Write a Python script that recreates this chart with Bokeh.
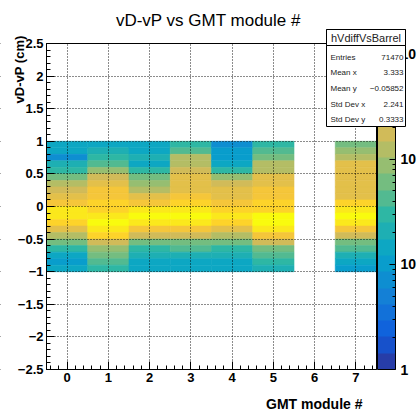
import numpy as np
from math import pi
from bokeh.plotting import figure
from bokeh.models import (ColumnDataSource, LogColorMapper, ColorBar, FixedTicker,
                          SingleIntervalTicker, Range1d, Label, BoxAnnotation)
from bokeh.embed import file_html
from bokeh.resources import INLINE

# ---------------- data ----------------
module_number = [0, 1, 2, 3, 4, 5, 6, 7]
y_bin_centers = [0.95, 0.85, 0.75, 0.65, 0.55, 0.45, 0.35, 0.25, 0.15, 0.05,
                 -0.05, -0.15, -0.25, -0.35, -0.45, -0.55, -0.65, -0.75, -0.85, -0.95]
x_bin_width = 1.0
y_bin_width = 0.1

counts_module0 = [13, 13, 7, 21, 30, 61, 124, 177, 253, 361, 737, 639, 447, 253, 124, 61, 30, 15, 10, 13]
counts_module1 = [17, 21, 30, 42, 87, 177, 291, 361, 361, 447, 516, 850, 1150, 850, 447, 177, 87, 53, 42, 34]
counts_module2 = [13, 17, 21, 15, 30, 53, 87, 143, 219, 361, 737, 1100, 850, 361, 177, 70, 30, 21, 13, 13]
counts_module3 = [30, 42, 107, 143, 177, 253, 291, 291, 361, 447, 850, 1180, 737, 416, 177, 70, 42, 21, 13, 13]
counts_module4 = [7, 10, 10, 17, 34, 87, 177, 253, 291, 361, 595, 850, 595, 291, 143, 70, 30, 21, 15, 15]
counts_module5 = [26, 42, 70, 107, 143, 253, 291, 336, 388, 447, 595, 1260, 1050, 737, 361, 177, 70, 42, 26, 21]
counts_module6 = [0] * 20
counts_module7 = [53, 87, 143, 219, 291, 291, 253, 219, 291, 447, 850, 1120, 850, 361, 177, 61, 42, 21, 15, 9]

all_counts = [counts_module0, counts_module1, counts_module2, counts_module3,
              counts_module4, counts_module5, counts_module6, counts_module7]

x_tick_values = [0, 1, 2, 3, 4, 5, 6, 7]
x_tick_labels = ["0", "1", "2", "3", "4", "5", "6", "7"]
y_tick_values = [-2.5, -2, -1.5, -1, -0.5, 0, 0.5, 1, 1.5, 2, 2.5]
y_tick_labels = ["\u22122.5", "\u22122", "\u22121.5", "\u22121", "\u22120.5", "0",
                 "0.5", "1", "1.5", "2", "2.5"]
z_tick_values = [1, 10, 100, 1000]
z_tick_labels = ["1", "10", "10", "10"]

stat_names = ["Entries", "Mean x", "Mean y", "Std Dev x", "Std Dev y"]
stat_values = ["71470", "3.333", "\u22120.05852", "2.241", "0.3333"]
hist_name = "hVdiffVsBarrel"
title_text = "vD-vP vs GMT module #"
x_title = "GMT module #"
y_title = "vD-vP (cm)"

# axis limits of the histogram frame
X_LO, X_HI = -0.5, 7.5
Y_LO, Y_HI = -2.5, 2.5

# ---------------- layout (canvas pixels) ----------------
W, H = 417, 411
FL, FR, FT, FB = 46, 376, 43, 369          # ROOT frame box inside the canvas
xs = (FR - FL) / (X_HI - X_LO)
ys = (FB - FT) / (Y_HI - Y_LO)
x_range = Range1d(X_LO - FL / xs, X_HI + (W - FR) / xs)
y_range = Range1d(Y_LO - (H - FB) / ys, Y_HI + FT / ys)

def sy(y_canvas):
    return H - y_canvas

# ---------------- build cells ----------------
left, right, bottom, top, z = [], [], [], [], []
for m, col in zip(module_number, all_counts):
    for yc, c in zip(y_bin_centers, col):
        if c > 0:
            left.append(m - x_bin_width / 2)
            right.append(m + x_bin_width / 2)
            bottom.append(yc - y_bin_width / 2)
            top.append(yc + y_bin_width / 2)
            z.append(c)
src = ColumnDataSource(dict(left=left, right=right, bottom=bottom, top=top, z=z))

# ROOT kBird palette, 20 contour levels
stops = [0.0, 0.125, 0.25, 0.375, 0.5, 0.625, 0.75, 0.875, 1.0]
R = [0.2082, 0.0592, 0.0780, 0.0232, 0.1802, 0.5301, 0.8186, 0.9956, 0.9764]
G = [0.1664, 0.3599, 0.5041, 0.6419, 0.7178, 0.7492, 0.7328, 0.7862, 0.9832]
B = [0.5293, 0.8684, 0.8385, 0.7914, 0.6425, 0.4662, 0.3499, 0.1968, 0.0539]
palette = []
for i in range(20):
    idx = min(int((i + 0.99) * 255 / 20), 254)
    t = idx / 254
    r, g, b = (int(round(255 * np.interp(t, stops, ch))) for ch in (R, G, B))
    palette.append("#%02x%02x%02x" % (r, g, b))

mapper = LogColorMapper(palette=palette, low=1, high=max(z))

FONT = "Liberation Sans"

p = figure(width=W, height=H, x_range=x_range, y_range=y_range,
           output_backend="svg", toolbar_location=None, title=None,
           min_border_left=0, min_border_right=0, min_border_top=0, min_border_bottom=0)
p.background_fill_color = "white"
p.border_fill_color = "white"
p.outline_line_color = None

p.quad(left="left", right="right", bottom="bottom", top="top", source=src,
       fill_color={"field": "z", "transform": mapper},
       line_color={"field": "z", "transform": mapper}, line_width=0.6)

# axes drawn at the frame edges
p.xaxis.fixed_location = Y_LO
p.yaxis.fixed_location = X_LO
p.xaxis.bounds = (X_LO, X_HI)
p.yaxis.bounds = (Y_LO, Y_HI)
p.xaxis.ticker = SingleIntervalTicker(interval=1, num_minor_ticks=5)
p.yaxis.ticker = SingleIntervalTicker(interval=0.5, num_minor_ticks=5)
p.xaxis.major_label_overrides = {v: l for v, l in zip(x_tick_values, x_tick_labels)}
p.yaxis.major_label_overrides = {v: l for v, l in zip(y_tick_values, y_tick_labels)}
for ax in p.axis:
    ax.level = "overlay"
    ax.major_tick_in = 8
    ax.major_tick_out = 0
    ax.minor_tick_in = 4
    ax.minor_tick_out = 0
    ax.axis_line_color = "black"
    ax.major_tick_line_color = "black"
    ax.minor_tick_line_color = "black"
    ax.major_label_text_font = FONT
    ax.major_label_text_font_style = "bold"
    ax.major_label_text_font_size = "13px"
    ax.major_label_text_color = "black"
    ax.major_label_standoff = 3

for g in (p.xgrid, p.ygrid):
    g.grid_line_color = "black"
    g.grid_line_dash = "1 2"
    g.grid_line_width = 1
    g.grid_line_alpha = 0.9
    g.level = "guide"

# white margins around the histogram frame (hide grid outside the frame)
for kw in (dict(bottom=Y_HI), dict(top=Y_LO), dict(right=X_LO), dict(left=X_HI)):
    p.add_layout(BoxAnnotation(fill_color="white", fill_alpha=1.0, line_color=None, **kw))
# frame box
p.add_layout(BoxAnnotation(left=X_LO, right=X_HI, bottom=Y_LO, top=Y_HI,
                           fill_alpha=0.0, line_color="black", line_width=1, line_alpha=1.0))

# palette (colour scale)
cb = ColorBar(color_mapper=mapper, width=18, height=FB - FT, padding=0, margin=0,
              location=(FR + 1, H - FB), label_standoff=5,
              ticker=FixedTicker(ticks=z_tick_values,
                                 minor_ticks=[2, 3, 4, 5, 6, 7, 8, 9,
                                              20, 30, 40, 50, 60, 70, 80, 90,
                                              200, 300, 400, 500, 600, 700, 800, 900]),
              major_label_overrides={v: l for v, l in zip(z_tick_values, z_tick_labels)},
              major_tick_in=6, major_tick_out=0, minor_tick_in=3, minor_tick_out=0,
              major_tick_line_color="black", minor_tick_line_color="black",
              bar_line_color="black", bar_line_width=1,
              background_fill_alpha=0.0, border_line_color=None,
              major_label_text_font=FONT, major_label_text_font_style="bold",
              major_label_text_font_size="14px", major_label_text_color="black")
p.add_layout(cb)

# title and axis titles
p.add_layout(Label(x=208, y=sy(20), x_units="screen", y_units="screen",
                   text=title_text, text_align="center", text_baseline="middle",
                   text_font=FONT, text_font_size="17px", text_color="black"))
p.add_layout(Label(x=19, y=sy(35), x_units="screen", y_units="screen", angle=pi / 2,
                   text=y_title, text_align="right", text_baseline="middle",
                   text_font=FONT, text_font_style="bold", text_font_size="13px",
                   text_color="black", level="overlay"))
p.add_layout(Label(x=362, y=sy(403), x_units="screen", y_units="screen",
                   text=x_title, text_align="right", text_baseline="middle",
                   text_font=FONT, text_font_style="bold", text_font_size="14px",
                   text_color="black"))

# stats box
p.add_layout(BoxAnnotation(left=326, right=405, top=sy(29), bottom=sy(126),
                           left_units="screen", right_units="screen",
                           top_units="screen", bottom_units="screen",
                           fill_color="white", fill_alpha=1.0,
                           line_color="black", line_width=1, line_alpha=1.0))
p.add_layout(BoxAnnotation(left=326, right=405, top=sy(29), bottom=sy(45),
                           left_units="screen", right_units="screen",
                           top_units="screen", bottom_units="screen",
                           fill_color="white", fill_alpha=1.0,
                           line_color="black", line_width=1, line_alpha=1.0))
p.add_layout(Label(x=365.5, y=sy(37.5), x_units="screen", y_units="screen",
                   text=hist_name, text_align="center", text_baseline="middle",
                   text_font=FONT, text_font_size="11px", text_color="#222222"))
row_y = [57, 72, 88, 104, 119]
for name, val, ry in zip(stat_names, stat_values, row_y):
    p.add_layout(Label(x=330, y=sy(ry), x_units="screen", y_units="screen",
                       text=name, text_align="left", text_baseline="middle",
                       text_font=FONT, text_font_size="8px", text_color="#222222"))
    p.add_layout(Label(x=403, y=sy(ry), x_units="screen", y_units="screen",
                       text=val, text_align="right", text_baseline="middle",
                       text_font=FONT, text_font_size="8px", text_color="#222222"))

open("out.html", "w").write(file_html(p, INLINE, title=title_text))
